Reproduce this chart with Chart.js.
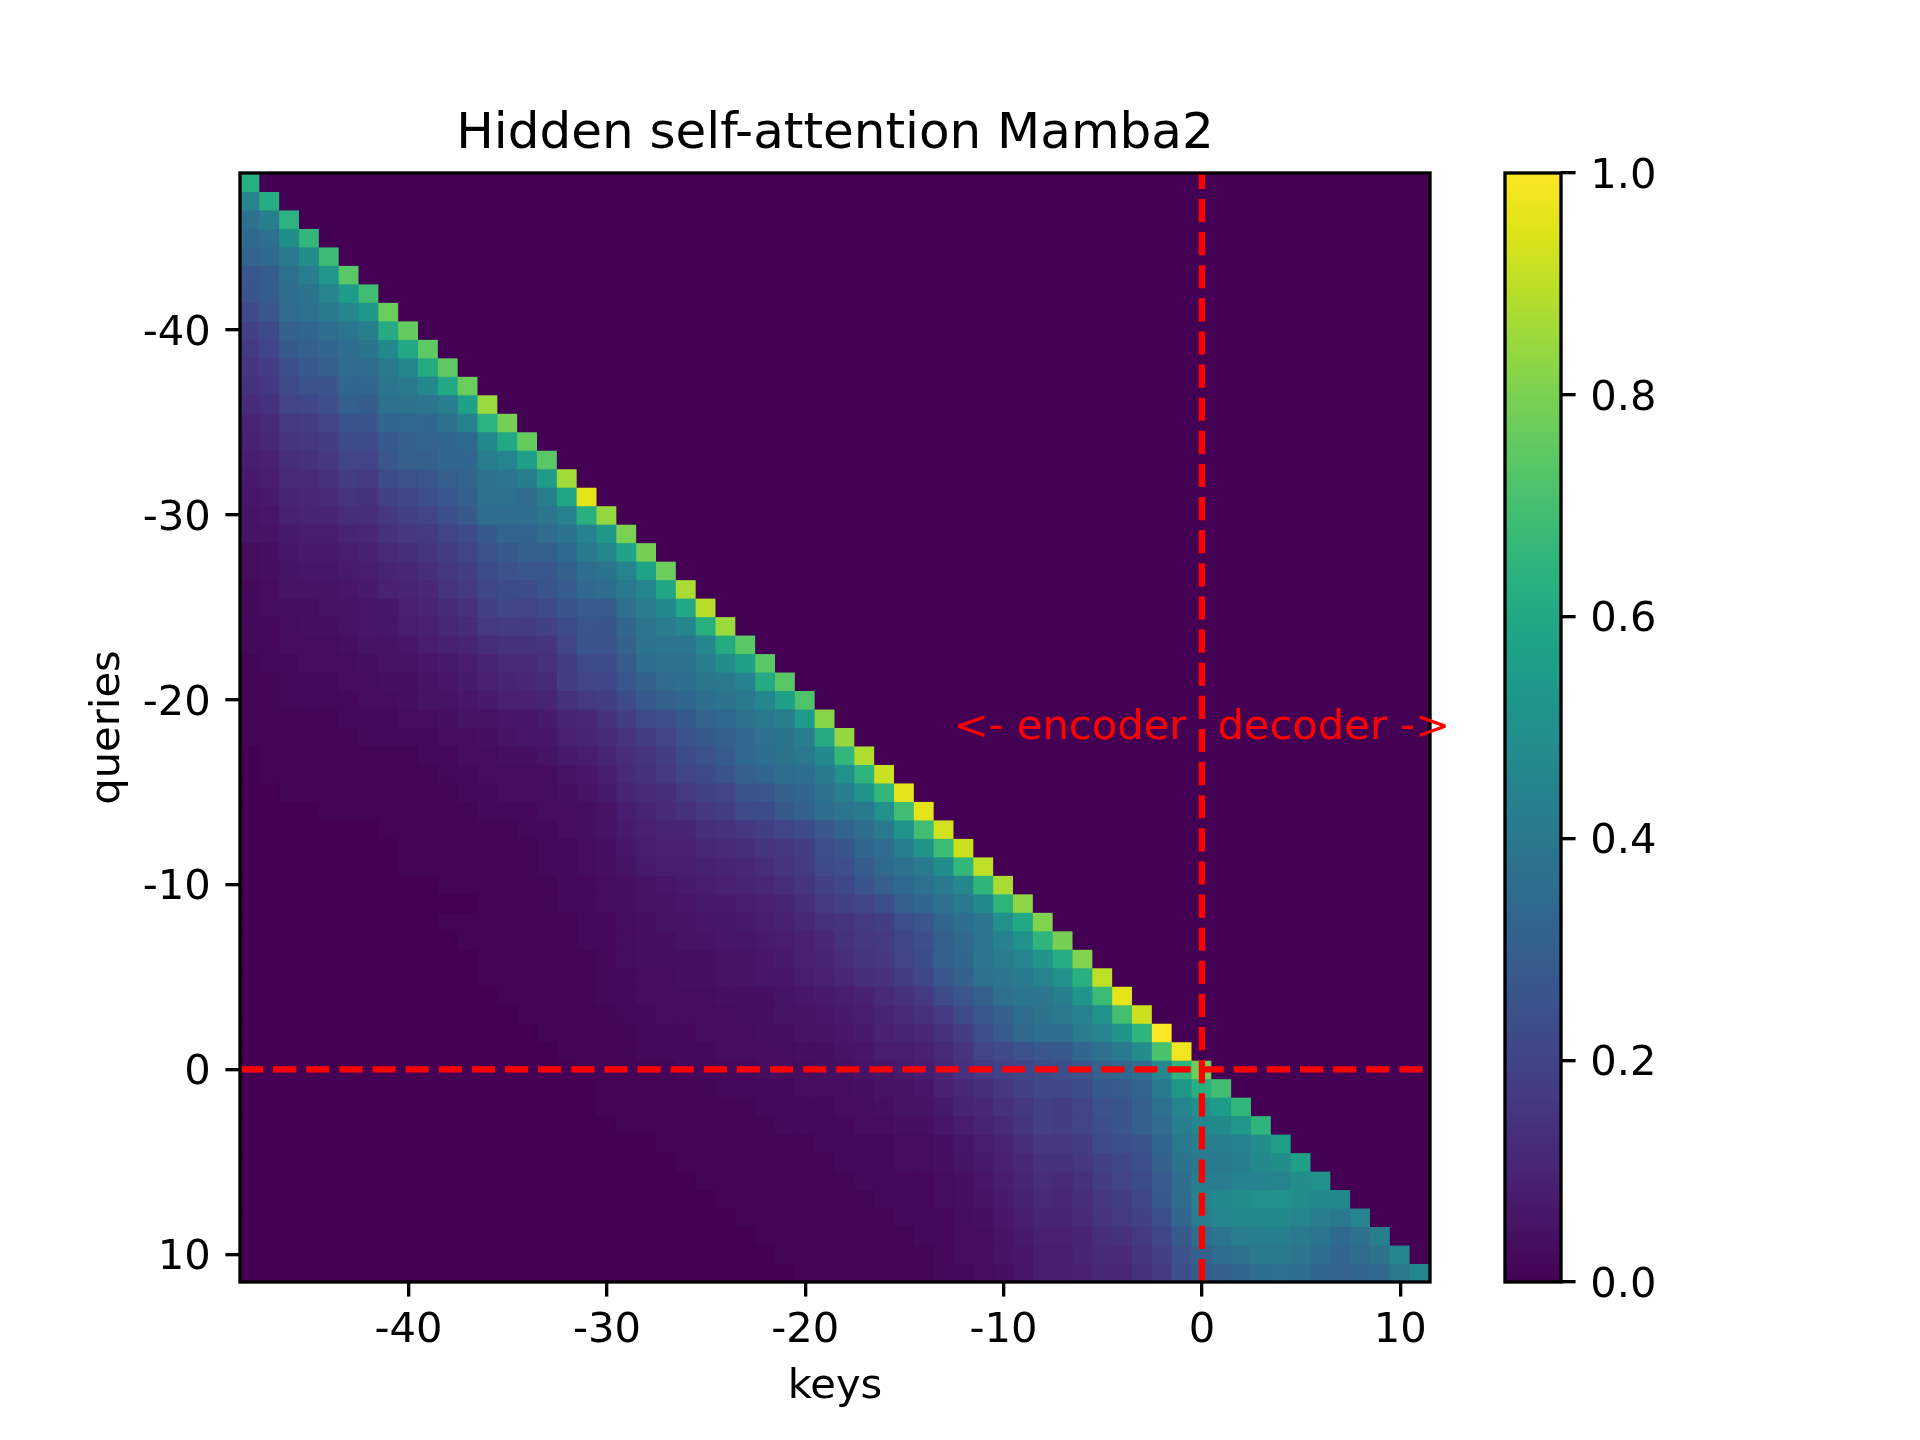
<!DOCTYPE html>
<html><head><meta charset="utf-8">
<style>html,body{margin:0;padding:0;background:#fff}#w{position:relative;width:1920px;height:1440px}canvas{position:absolute;left:0;top:0}</style>
<script src="https://cdn.jsdelivr.net/npm/chart.js@4"></script>
</head><body><div id="w"><canvas id="c1" width="1920" height="1440"></canvas><canvas id="c2" width="1920" height="1440"></canvas></div>
<script>
const keys=[-48,-47,-46,-45,-44,-43,-42,-41,-40,-39,-38,-37,-36,-35,-34,-33,-32,-31,-30,-29,-28,-27,-26,-25,-24,-23,-22,-21,-20,-19,-18,-17,-16,-15,-14,-13,-12,-11,-10,-9,-8,-7,-6,-5,-4,-3,-2,-1,0,1,2,3,4,5,6,7,8,9,10,11];
const queries=keys.slice();
const xTicks=[-40,-30,-20,-10,0,10];
const yTicks=[-40,-30,-20,-10,0,10];
const colorTicks=[0,0.2,0.4,0.6,0.8,1];
const titleText="Hidden self-attention Mamba2";
const viridisStops=["#440154","#471365","#482475","#463480","#414487","#3b528b","#355f8d","#2f6c8e","#2a788e","#25848e","#21918c","#1e9c89","#22a884","#2fb47c","#44bf70","#5ec962","#7ad151","#9bd93c","#bddf26","#dfe318","#fde725"];
const r00=[.63];
const r01=[.45,.62];
const r02=[.37,.43,.64];
const r03=[.34,.37,.49,.66];
const r04=[.32,.34,.41,.49,.68];
const r05=[.27,.29,.37,.42,.53,.74];
const r06=[.26,.29,.36,.38,.45,.55,.69];
const r07=[.23,.27,.35,.37,.41,.46,.53,.77];
const r08=[.19,.23,.31,.33,.36,.39,.43,.61,.76];
const r09=[.17,.2,.28,.3,.33,.36,.38,.47,.6,.75];
const r10=[.15,.18,.24,.28,.3,.35,.35,.41,.46,.61,.75];
const r11=[.14,.16,.22,.25,.26,.33,.33,.39,.41,.47,.6,.77];
const r12=[.12,.14,.2,.21,.24,.3,.29,.37,.38,.39,.42,.57,.85];
const r13=[.1,.12,.17,.18,.2,.26,.26,.33,.34,.33,.37,.44,.64,.79];
const r14=[.09,.11,.15,.16,.18,.23,.22,.28,.31,.32,.33,.34,.47,.6,.76];
const r15=[.08,.09,.13,.14,.16,.2,.2,.27,.3,.3,.33,.33,.42,.45,.56,.74];
const r16=[.07,.08,.12,.12,.14,.18,.17,.23,.25,.27,.3,.32,.38,.39,.43,.55,.86];
const r17=[.06,.07,.1,.11,.12,.15,.14,.19,.21,.24,.27,.3,.37,.37,.35,.43,.59,.96];
const r18=[.05,.06,.09,.1,.1,.13,.13,.16,.19,.2,.24,.28,.36,.35,.36,.39,.44,.63,.84];
const r19=[.05,.05,.07,.08,.08,.1,.11,.14,.16,.17,.2,.23,.28,.32,.32,.35,.38,.44,.53,.8];
const r20=[.03,.04,.06,.07,.07,.08,.09,.12,.13,.15,.18,.2,.25,.28,.3,.3,.34,.41,.46,.58,.79];
const r21=[.03,.04,.05,.06,.06,.07,.08,.1,.11,.13,.16,.18,.23,.25,.27,.27,.31,.36,.38,.45,.58,.77];
const r22=[.02,.03,.05,.05,.05,.06,.07,.09,.1,.11,.15,.17,.21,.23,.23,.26,.29,.34,.35,.4,.45,.59,.87];
const r23=[.02,.03,.04,.04,.05,.05,.06,.06,.09,.1,.12,.14,.19,.21,.2,.23,.26,.29,.29,.37,.42,.47,.6,.89];
const r24=[.02,.02,.03,.04,.04,.05,.06,.06,.08,.09,.11,.12,.17,.18,.18,.19,.23,.27,.26,.33,.39,.42,.46,.63,.85];
const r25=[.02,.02,.03,.03,.03,.04,.05,.05,.06,.08,.09,.1,.13,.14,.14,.15,.2,.26,.25,.31,.38,.39,.39,.46,.61,.74];
const r26=[.01,.02,.02,.03,.03,.03,.04,.05,.05,.06,.07,.08,.1,.12,.12,.14,.18,.22,.23,.29,.36,.37,.37,.42,.48,.57,.74];
const r27=[.01,.01,.02,.02,.02,.03,.03,.04,.04,.05,.06,.07,.09,.1,.11,.12,.18,.2,.21,.27,.31,.35,.36,.39,.4,.44,.61,.74];
const r28=[.01,.01,.02,.02,.02,.02,.03,.03,.04,.05,.05,.06,.07,.09,.09,.1,.14,.17,.18,.23,.28,.31,.33,.36,.38,.41,.46,.57,.72];
const r29=[.01,.01,.01,.01,.01,.02,.02,.02,.03,.03,.04,.05,.05,.06,.06,.07,.1,.11,.14,.18,.22,.24,.28,.32,.34,.37,.4,.43,.55,.82];
const r30=[.01,.01,.01,.01,.01,.01,.02,.02,.02,.02,.03,.03,.04,.05,.06,.06,.09,.1,.12,.15,.18,.2,.25,.28,.3,.34,.37,.38,.42,.61,.84];
const r31=[0,.01,.01,.01,.01,.01,.01,.01,.01,.02,.02,.03,.03,.04,.04,.05,.07,.08,.1,.13,.15,.18,.23,.25,.29,.34,.36,.38,.4,.47,.66,.88];
const r32=[0,.01,.01,.01,.01,.01,.01,.01,.01,.01,.02,.02,.03,.03,.03,.03,.05,.06,.08,.12,.14,.17,.2,.23,.25,.31,.33,.35,.36,.41,.5,.65,.92];
const r33=[0,0,.01,.01,.01,.01,.01,.01,.01,.01,.01,.02,.02,.03,.03,.03,.04,.05,.07,.1,.12,.13,.17,.19,.2,.26,.27,.31,.33,.38,.43,.52,.66,.96];
const r34=[0,0,0,0,.01,.01,.01,.01,.01,.01,.01,.01,.02,.02,.02,.03,.03,.04,.05,.08,.1,.12,.14,.16,.18,.22,.23,.28,.31,.36,.39,.41,.5,.69,.96];
const r35=[0,0,0,0,0,0,0,.01,.01,.01,.01,.01,.01,.01,.02,.02,.03,.04,.05,.07,.09,.1,.1,.13,.14,.16,.18,.2,.22,.27,.32,.35,.41,.51,.69,.93];
const r36=[0,0,0,0,0,0,0,0,.01,.01,.01,.01,.01,.01,.01,.02,.02,.03,.04,.06,.08,.09,.09,.11,.12,.13,.15,.16,.18,.24,.26,.33,.35,.43,.51,.68,.92];
const r37=[0,0,0,0,0,0,0,0,.01,.01,.01,.01,.01,.01,.01,.02,.02,.03,.04,.05,.07,.08,.08,.09,.1,.11,.13,.15,.17,.22,.24,.29,.34,.37,.41,.49,.66,.9];
const r38=[0,0,0,0,0,0,0,0,0,0,.01,.01,.01,.01,.01,.01,.02,.02,.03,.04,.05,.06,.07,.08,.09,.1,.11,.13,.15,.19,.21,.26,.3,.34,.37,.41,.46,.65,.87];
const r39=[0,0,0,0,0,0,0,0,0,0,0,0,.01,.01,.01,.01,.02,.02,.03,.04,.05,.05,.06,.07,.07,.08,.09,.1,.13,.17,.19,.2,.24,.3,.33,.37,.41,.47,.65,.83];
const r40=[0,0,0,0,0,0,0,0,0,0,.01,.01,.01,.01,.01,.01,.01,.02,.02,.03,.04,.05,.05,.06,.06,.07,.08,.09,.11,.14,.15,.17,.18,.24,.27,.33,.36,.39,.5,.6,.81];
const r41=[0,0,0,0,0,0,0,0,0,0,0,.01,.01,.01,.01,.01,.01,.02,.02,.03,.04,.04,.05,.05,.06,.06,.07,.08,.09,.11,.14,.16,.17,.21,.24,.3,.34,.39,.44,.5,.65,.79];
const r42=[0,0,0,0,0,0,0,0,0,0,0,0,.01,.01,.01,.01,.01,.01,.02,.03,.04,.04,.04,.04,.05,.05,.06,.07,.09,.1,.13,.15,.16,.2,.23,.3,.33,.39,.42,.45,.52,.62,.81];
const r43=[0,0,0,0,0,0,0,0,0,0,0,0,.01,.01,.01,.01,.01,.01,.02,.02,.03,.03,.04,.04,.05,.05,.06,.06,.08,.09,.11,.13,.14,.18,.21,.27,.31,.37,.39,.41,.45,.5,.63,.9];
const r44=[0,0,0,0,0,0,0,0,0,0,0,0,0,.01,.01,.01,.01,.01,.02,.02,.03,.03,.03,.03,.04,.04,.04,.05,.06,.07,.08,.09,.12,.14,.17,.22,.27,.3,.37,.39,.39,.43,.52,.68,.96];
const r45=[0,0,0,0,0,0,0,0,0,0,0,0,0,0,.01,.01,.01,.01,.01,.02,.02,.03,.03,.03,.03,.04,.04,.05,.05,.06,.07,.08,.1,.12,.14,.17,.22,.27,.31,.35,.38,.4,.44,.51,.7,.92];
const r46=[0,0,0,0,0,0,0,0,0,0,0,0,0,0,0,.01,.01,.01,.01,.01,.02,.02,.02,.03,.03,.03,.04,.04,.05,.05,.06,.07,.09,.1,.11,.14,.18,.24,.29,.34,.36,.35,.42,.45,.52,.65,1];
const r47=[0,0,0,0,0,0,0,0,0,0,0,0,0,0,0,0,.01,.01,.01,.01,.02,.02,.02,.02,.03,.03,.03,.03,.04,.04,.05,.06,.08,.08,.09,.12,.15,.2,.22,.25,.27,.28,.33,.37,.41,.48,.71,.98];
const r48=[0,0,0,0,0,0,0,0,0,0,0,0,0,0,0,0,0,.01,.01,.01,.01,.01,.02,.02,.02,.02,.03,.03,.03,.04,.04,.05,.06,.07,.08,.11,.14,.17,.19,.2,.23,.24,.26,.31,.33,.36,.47,.65,.78];
const r49=[0,0,0,0,0,0,0,0,0,0,0,0,0,0,0,0,0,0,.01,.01,.01,.01,.01,.01,.02,.02,.02,.02,.03,.03,.03,.04,.05,.05,.06,.09,.11,.13,.16,.19,.21,.21,.23,.28,.29,.32,.41,.53,.63,.69];
const r50=[0,0,0,0,0,0,0,0,0,0,0,0,0,0,0,0,0,0,.01,.01,.01,.01,.01,.01,.01,.01,.02,.02,.02,.02,.03,.03,.04,.05,.05,.07,.1,.11,.14,.16,.19,.18,.2,.25,.26,.3,.37,.45,.5,.55,.66];
const r51=[0,0,0,0,0,0,0,0,0,0,0,0,0,0,0,0,0,0,0,.01,.01,.01,.01,.01,.01,.01,.01,.02,.02,.02,.02,.03,.03,.04,.04,.06,.08,.1,.12,.15,.19,.18,.2,.24,.26,.3,.35,.42,.46,.47,.53,.65];
const r52=[0,0,0,0,0,0,0,0,0,0,0,0,0,0,0,0,0,0,0,0,0,.01,.01,.01,.01,.01,.01,.01,.01,.02,.02,.02,.02,.03,.03,.04,.06,.08,.1,.13,.16,.16,.18,.22,.24,.25,.33,.4,.42,.43,.44,.49,.56];
const r53=[0,0,0,0,0,0,0,0,0,0,0,0,0,0,0,0,0,0,0,0,0,0,.01,.01,.01,.01,.01,.01,.01,.01,.02,.02,.02,.03,.03,.04,.05,.07,.09,.11,.14,.14,.16,.19,.21,.24,.31,.38,.41,.41,.43,.47,.49,.57];
const r54=[0,0,0,0,0,0,0,0,0,0,0,0,0,0,0,0,0,0,0,0,0,0,0,.01,.01,.01,.01,.01,.01,.01,.01,.02,.02,.02,.02,.03,.04,.06,.08,.1,.13,.12,.14,.18,.2,.23,.29,.36,.42,.42,.44,.44,.45,.48,.5];
const r55=[0,0,0,0,0,0,0,0,0,0,0,0,0,0,0,0,0,0,0,0,0,0,0,0,.01,.01,.01,.01,.01,.01,.01,.01,.02,.02,.02,.03,.04,.05,.07,.09,.12,.11,.13,.16,.18,.21,.28,.35,.44,.47,.49,.5,.5,.49,.47,.47];
const r56=[0,0,0,0,0,0,0,0,0,0,0,0,0,0,0,0,0,0,0,0,0,0,0,0,0,.01,.01,.01,.01,.01,.01,.01,.01,.02,.02,.02,.03,.04,.06,.08,.1,.1,.12,.15,.17,.19,.24,.33,.42,.45,.47,.47,.47,.45,.42,.4,.45];
const r57=[0,0,0,0,0,0,0,0,0,0,0,0,0,0,0,0,0,0,0,0,0,0,0,0,0,0,.01,.01,.01,.01,.01,.01,.01,.01,.02,.02,.03,.03,.05,.07,.09,.09,.1,.13,.14,.17,.21,.28,.35,.39,.42,.43,.43,.41,.39,.34,.37,.43];
const r58=[0,0,0,0,0,0,0,0,0,0,0,0,0,0,0,0,0,0,0,0,0,0,0,0,0,0,0,.01,.01,.01,.01,.01,.01,.01,.01,.02,.03,.03,.05,.06,.08,.08,.1,.12,.12,.15,.19,.25,.31,.35,.38,.41,.41,.39,.36,.33,.35,.38,.45];
const r59=[0,0,0,0,0,0,0,0,0,0,0,0,0,0,0,0,0,0,0,0,0,0,0,0,0,0,0,0,.01,.01,.01,.01,.01,.01,.01,.02,.02,.03,.04,.06,.08,.08,.09,.11,.11,.14,.17,.24,.29,.31,.33,.36,.37,.36,.33,.32,.33,.34,.4,.46];
const rows=[r00,r01,r02,r03,r04,r05,r06,r07,r08,r09,r10,r11,r12,r13,r14,r15,r16,r17,r18,r19,r20,r21,r22,r23,r24,r25,r26,r27,r28,r29,r30,r31,r32,r33,r34,r35,r36,r37,r38,r39,r40,r41,r42,r43,r44,r45,r46,r47,r48,r49,r50,r51,r52,r53,r54,r55,r56,r57,r58,r59];

function hex(h){return [1,3,5].map(i=>parseInt(h.substr(i,2),16));}
function viridis(v){
  const t=Math.min(1,Math.max(0,v))*(viridisStops.length-1),i=Math.min(viridisStops.length-2,Math.floor(t)),f=t-i;
  const a=hex(viridisStops[i]),b=hex(viridisStops[i+1]);
  return `rgb(${a.map((x,k)=>Math.round(x+(b[k]-x)*f)).join(',')})`;
}
Chart.defaults.font.family="'DejaVu Sans'";
Chart.defaults.font.size=41.67;
Chart.defaults.color="#000";
Chart.defaults.animation=false;

const frame={id:'frame',
 beforeDatasetsDraw(ch){
  const a=ch.chartArea,c=ch.ctx;c.save();c.fillStyle=viridisStops[0];c.fillRect(a.left,a.top,a.right-a.left,a.bottom-a.top);c.restore();
 },
 afterDatasetsDraw(ch){
  const a=ch.chartArea,c=ch.ctx;c.save();c.strokeStyle='#000';c.lineWidth=3.33;c.setLineDash([]);
  c.strokeRect(a.left,a.top,a.right-a.left,a.bottom-a.top);c.restore();
}};
const notes=[{x:-0.78,y:-17.87,text:"<- encoder",align:"right"},{x:0.78,y:-17.87,text:"decoder ->",align:"left"}];
const annot={id:'annot',afterDraw(ch){
  const c=ch.ctx;c.save();c.fillStyle='#ff0000';c.font="41.67px 'DejaVu Sans'";c.textBaseline='alphabetic';
  notes.forEach(n=>{c.textAlign=n.align;c.fillText(n.text,ch.scales.x.getPixelForValue(n.x),ch.scales.y.getPixelForValue(n.y));});
  c.restore();
}};
const gridOpts={display:true,drawOnChartArea:false,drawTicks:true,tickLength:14.58,tickWidth:3.33,tickColor:'#000',color:'#000',lineWidth:3.33,offset:false};

const cellSets=rows.map((vals,r)=>({
  type:'bar',order:2,grouped:false,barPercentage:1,categoryPercentage:1,borderWidth:0,borderSkipped:false,inflateAmount:0.5,
  data:keys.map(k=>({x:k,y:[queries[r]-0.5,queries[r]+0.5]})),
  backgroundColor:keys.map((k,c)=>viridis(vals[c]===undefined?0:vals[c]))
}));
const lineBase={type:'line',order:1,borderColor:'#ff0000',borderWidth:6.25,borderDash:[23.125,10],pointRadius:0,fill:false,tension:0,borderCapStyle:'butt'};
const hLine=[{x:-48.5,y:0},{x:11.5,y:0}];
const vLine=[{x:0,y:11.5},{x:0,y:-48.5}];

new Chart(document.getElementById('c1'),{
  type:'bar',
  data:{datasets:[...cellSets,{...lineBase,data:hLine},{...lineBase,data:vLine}]},
  plugins:[frame,annot],
  options:{
    responsive:false,maintainAspectRatio:false,events:[],devicePixelRatio:1,
    layout:{autoPadding:false,padding:{left:0,top:0,right:490,bottom:0}},
    plugins:{legend:{display:false},tooltip:{enabled:false},
      title:{display:true,text:titleText,fullSize:false,color:'#000',font:{size:50,weight:'normal'},padding:{top:105,bottom:8}}},
    scales:{
      x:{type:'linear',offset:false,min:-48.5,max:11.5,grid:gridOpts,border:{display:false},
        afterBuildTicks(s){s.ticks=xTicks.map(v=>({value:v}));},
        afterFit(s){s.height=158;},
        ticks:{autoSkip:false,maxRotation:0,padding:10,callback:v=>String(v)},
        title:{display:true,text:'keys',padding:{top:0,bottom:28}}},
      y:{type:'linear',offset:false,reverse:true,min:-48.5,max:11.5,grid:gridOpts,border:{display:false},
        afterBuildTicks(s){s.ticks=yTicks.map(v=>({value:v}));},
        afterFit(s){s.width=240;},
        ticks:{autoSkip:false,padding:14.58,labelOffset:4,callback:v=>String(v)},
        title:{display:true,text:'queries',padding:{top:83,bottom:0}}}
    }
  }
});

const colorRange=[0,1];
new Chart(document.getElementById('c2'),{
  type:'bar',
  data:{labels:['colorbar'],datasets:[{
    data:[colorRange],barPercentage:1,categoryPercentage:1,borderWidth:0,borderSkipped:false,
    backgroundColor(ctx){
      const a=ctx.chart.chartArea;if(!a)return '#000';
      const g=ctx.chart.ctx.createLinearGradient(0,a.bottom,0,a.top);
      viridisStops.forEach((h,i)=>g.addColorStop(i/(viridisStops.length-1),h));
      return g;
    }
  }]},
  plugins:[frame],
  options:{
    responsive:false,maintainAspectRatio:false,events:[],devicePixelRatio:1,
    layout:{autoPadding:false,padding:{left:1505,top:173,right:0,bottom:158}},
    plugins:{legend:{display:false},tooltip:{enabled:false},title:{display:false}},
    scales:{
      x:{display:false},
      y:{type:'linear',position:'right',min:0,max:1,grid:gridOpts,border:{display:false},
        afterBuildTicks(s){s.ticks=colorTicks.map(v=>({value:v}));},
        afterFit(s){s.width=359;},
        ticks:{autoSkip:false,padding:14.58,labelOffset:4,callback:v=>v.toFixed(1)}}
    }
  }
});
</script></body></html>
